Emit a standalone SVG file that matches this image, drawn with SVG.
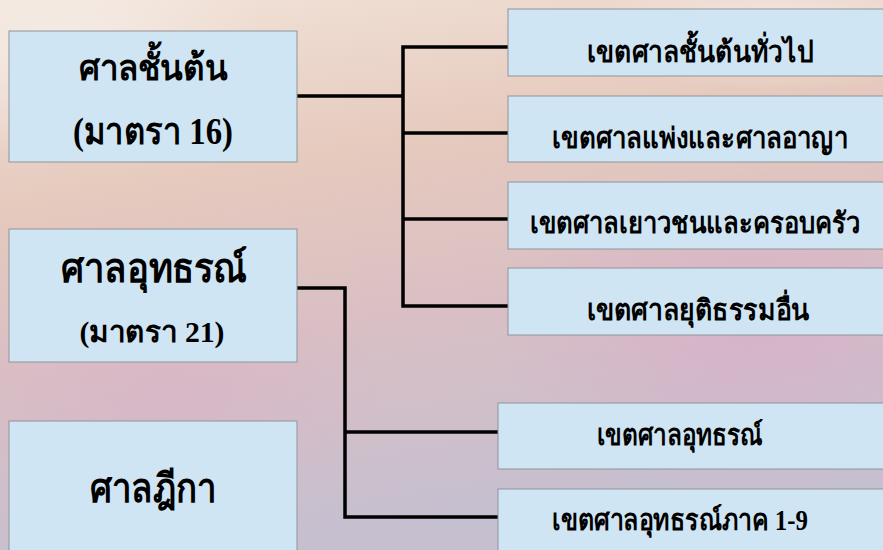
<svg xmlns="http://www.w3.org/2000/svg" width="883" height="550" viewBox="0 0 883 550">
<defs>
<linearGradient id="bg" x1="0" y1="0" x2="0.25" y2="1">
<stop offset="0" stop-color="#f2e4da"/>
<stop offset="0.35" stop-color="#e6cabe"/>
<stop offset="0.65" stop-color="#d9bfc4"/>
<stop offset="1" stop-color="#c6bfcf"/>
</linearGradient>
<radialGradient id="pink" cx="0.5" cy="0.5" r="0.5">
<stop offset="0" stop-color="#d8aec8" stop-opacity="0.7"/>
<stop offset="1" stop-color="#d8aec8" stop-opacity="0"/>
</radialGradient>
<radialGradient id="pink2" cx="0.5" cy="0.5" r="0.5">
<stop offset="0" stop-color="#d9b2c6" stop-opacity="0.6"/>
<stop offset="1" stop-color="#d9b2c6" stop-opacity="0"/>
</radialGradient>
<radialGradient id="light" cx="0.5" cy="0.5" r="0.5">
<stop offset="0" stop-color="#f6eee8" stop-opacity="0.8"/>
<stop offset="1" stop-color="#f6eee8" stop-opacity="0"/>
</radialGradient>
</defs>
<style>
.box{fill:#cfe5f3;stroke:#8f9499;stroke-width:1}
.t{font-family:"Liberation Serif","DejaVu Serif",serif;font-weight:bold;fill:#000;text-anchor:middle}
.conn{fill:none;stroke:#000;stroke-width:3.5;stroke-linejoin:miter}
</style>
<rect x="0" y="0" width="883" height="550" fill="url(#bg)"/>
<ellipse cx="750" cy="330" rx="260" ry="160" fill="url(#pink)"/>
<ellipse cx="170" cy="390" rx="220" ry="120" fill="url(#pink2)"/>
<ellipse cx="60" cy="40" rx="200" ry="120" fill="url(#light)"/>
<ellipse cx="780" cy="30" rx="200" ry="60" fill="url(#light)"/>

<g id="connectors">
<polyline class="conn" points="297,96 403,96"/>
<polyline class="conn" points="508,47 403,47 403,306 508,306"/>
<line class="conn" x1="403" y1="133" x2="508" y2="133"/>
<line class="conn" x1="403" y1="219" x2="508" y2="219"/>
<polyline class="conn" points="297,288 345,288 345,517 498,517"/>
<line class="conn" x1="345" y1="432" x2="498" y2="432"/>
</g>

<g id="n1">
<rect class="box" x="9" y="31" width="288" height="131"/>
<text class="t" x="153" y="80" font-size="36" textLength="149" lengthAdjust="spacingAndGlyphs">ศาลชั้นต้น</text>
<text class="t" x="153" y="144" font-size="37" textLength="160" lengthAdjust="spacingAndGlyphs">(มาตรา 16)</text>
</g>
<g id="n2">
<rect class="box" x="9" y="229" width="288" height="133"/>
<text class="t" x="154" y="282" font-size="40" textLength="186" lengthAdjust="spacingAndGlyphs">ศาลอุทธรณ์</text>
<text class="t" x="152" y="342" font-size="29" textLength="145" lengthAdjust="spacingAndGlyphs">(มาตรา 21)</text>
</g>
<g id="n3">
<rect class="box" x="9" y="421" width="288" height="140"/>
<text class="t" x="153" y="502" font-size="40" textLength="126" lengthAdjust="spacingAndGlyphs">ศาลฎีกา</text>
</g>
<g id="r1">
<rect class="box" x="508" y="9" width="390" height="67"/>
<text class="t" x="700" y="62" font-size="29" textLength="226" lengthAdjust="spacingAndGlyphs">เขตศาลชั้นต้นทั่วไป</text>
</g>
<g id="r2">
<rect class="box" x="508" y="96" width="390" height="66"/>
<text class="t" x="700" y="148" font-size="29" textLength="296" lengthAdjust="spacingAndGlyphs">เขตศาลแพ่งและศาลอาญา</text>
</g>
<g id="r3">
<rect class="box" x="508" y="182" width="390" height="67"/>
<text class="t" x="695" y="233" font-size="29" textLength="330" lengthAdjust="spacingAndGlyphs">เขตศาลเยาวชนและครอบครัว</text>
</g>
<g id="r4">
<rect class="box" x="508" y="268" width="390" height="67"/>
<text class="t" x="698" y="320" font-size="29" textLength="223" lengthAdjust="spacingAndGlyphs">เขตศาลยุติธรรมอื่น</text>
</g>
<g id="r5">
<rect class="box" x="498" y="403" width="400" height="66"/>
<text class="t" x="680" y="445" font-size="29" textLength="166" lengthAdjust="spacingAndGlyphs">เขตศาลอุทธรณ์</text>
</g>
<g id="r6">
<rect class="box" x="498" y="489" width="400" height="70"/>
<text class="t" x="680" y="530" font-size="29" textLength="256" lengthAdjust="spacingAndGlyphs">เขตศาลอุทธรณ์ภาค 1-9</text>
</g>
</svg>
